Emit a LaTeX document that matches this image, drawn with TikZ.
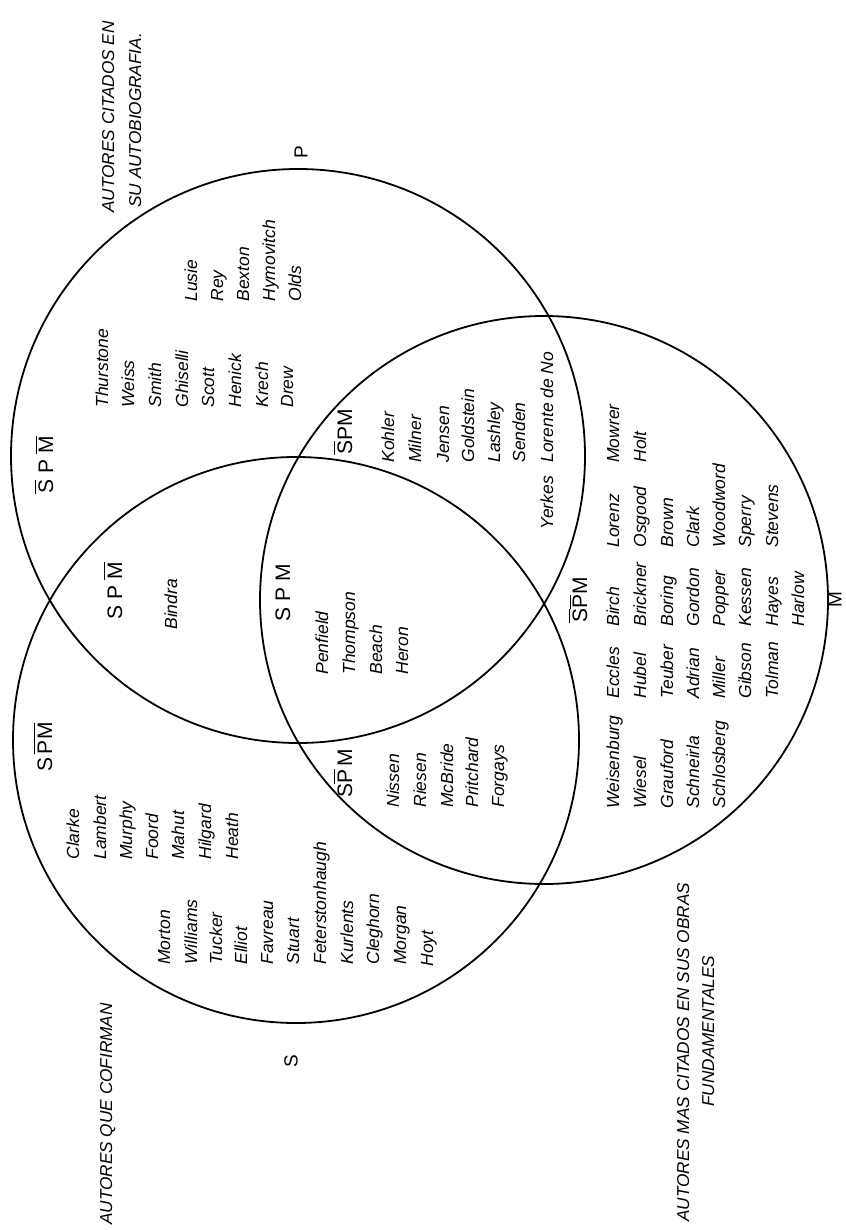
\documentclass[tikz,border=0pt]{standalone}
\usepackage{fontspec}
\setmainfont{Liberation Sans}
\newcommand\ob[1]{$\overline{\hbox{#1}}$}
\begin{document}
\begin{tikzpicture}[x=0.5pt,y=-0.5pt,
  circ/.style={draw,circle,line width=0.9pt,inner sep=0pt},
  nm/.style={rotate=90,anchor=base west,inner sep=0pt,font=\fontsize{8.75}{10}\selectfont\itshape},
  ttl/.style={rotate=90,anchor=base west,inner sep=0pt,font=\fontsize{8.6}{10}\selectfont\itshape},
  lbl/.style={rotate=90,anchor=center,inner sep=0pt,font=\fontsize{10.5}{12}\selectfont},
  big/.style={rotate=90,anchor=center,inner sep=0pt,font=\fontsize{9.5}{12}\selectfont}]
\fill[white] (0,0) rectangle (845,1230);
\useasboundingbox (0,0) rectangle (845,1230);
% circles
\node[circ,minimum size=287pt] (cP) at (298,456) {};
\node[circ,minimum size=283pt] (cS) at (296,740) {};
\node[circ,minimum size=284pt] (cM) at (544,600) {};
% set letters
\node[big] (lP) at (301,152) {P};
\node[big] (lS) at (291,1061) {S};
\node[big] (lM) at (835,600) {M};
% titles
\node[ttl] (t1) at (114,213) {AUTORES CITADOS EN};
\node[ttl] (t2) at (141,208) {SU AUTOBIOGRAFIA.};
\node[ttl] (t3) at (112,1225) {AUTORES QUE COFIRMAN};
\node[ttl] (t4) at (689,1222) {AUTORES MAS CITADOS EN SUS OBRAS};
\node[ttl] (t5) at (714,1107) {FUNDAMENTALES};
% region labels
\node[lbl] (rP) at (44,465) {\ob{S} P \ob{M}};
\node[lbl] (rSP) at (113,591) {S P \ob{M}};
\node[lbl] (rSPM) at (283,593) {S P M};
\node[lbl] (rPM) at (343,432) {\ob{S}PM};
\node[lbl] (rSM) at (343,773) {S\ob{P}\,M};
\node[lbl] (rS) at (43,747) {S\,\ob{PM}};
\node[lbl] (rM) at (578,600) {\ob{S}\ob{P}M};
% P only
\foreach \n/\x/\y [count=\i] in {Thurstone/108/408,Weiss/134/408,Smith/161/408,Ghiselli/188/408,Scott/214/408,Henick/241/408,Krech/268/408,Drew/293/408,Lusie/197/302,Rey/223/302,Bexton/249/302,Hymovitch/275/302,Olds/301/302}
  \node[nm] (p\i) at (\x,\y) {\n};
% S and P
\node[nm] (sp1) at (177,630) {Bindra};
% S P M
\foreach \n/\x/\y [count=\i] in {Penfield/328/675,Thompson/355/675,Beach/382/675,Heron/408/675}
  \node[nm] (spm\i) at (\x,\y) {\n};
% P and M
\foreach \n/\x/\y [count=\i] in {Kohler/394/463,Milner/421/463,Jensen/449/463,Goldstein/474/463,Lashley/500/463,Senden/525/463,Lorente de No/553/463,Yerkes/553/530}
  \node[nm] (pm\i) at (\x,\y) {\n};
% S and M
\foreach \n/\x/\y [count=\i] in {Nissen/399/808,Riesen/426/808,McBride/453/808,Pritchard/478/808,Forgays/504/808}
  \node[nm] (sm\i) at (\x,\y) {\n};
% M only
\foreach \n/\x/\y [count=\i] in {Weisenburg/619/809,Eccles/619/699,Birch/619/627,Lorenz/619/548,Mowrer/619/463,
  Wiesel/646/809,Hubel/646/699,Brickner/646/627,Osgood/646/548,Holt/646/463,
  Grauford/673/809,Teuber/673/699,Boring/673/627,Brown/673/548,
  Schneirla/699/809,Adrian/699/699,Gordon/699/627,Clark/699/548,
  Schlosberg/725/809,Miller/725/699,Popper/725/627,Woodword/725/548,
  Gibson/751/699,Kessen/751/627,Sperry/751/548,
  Tolman/778/699,Hayes/778/627,Stevens/778/548,
  Harlow/804/627}
  \node[nm] (m\i) at (\x,\y) {\n};
% S only
\foreach \n/\x/\y [count=\i] in {Clarke/79/860,Lambert/106/860,Murphy/132/860,Foord/158/860,Mahut/184/860,Hilgard/211/860,Heath/238/860,
  Morton/170/965,Williams/197/965,Tucker/222/965,Elliot/247/965,Favreau/273/965,Stuart/299/965,Feterstonhaugh/326/965,Kurlents/353/965,Cleghorn/379/965,Morgan/406/965,Hoyt/433/967}
  \node[nm] (s\i) at (\x,\y) {\n};
\end{tikzpicture}
\end{document}
